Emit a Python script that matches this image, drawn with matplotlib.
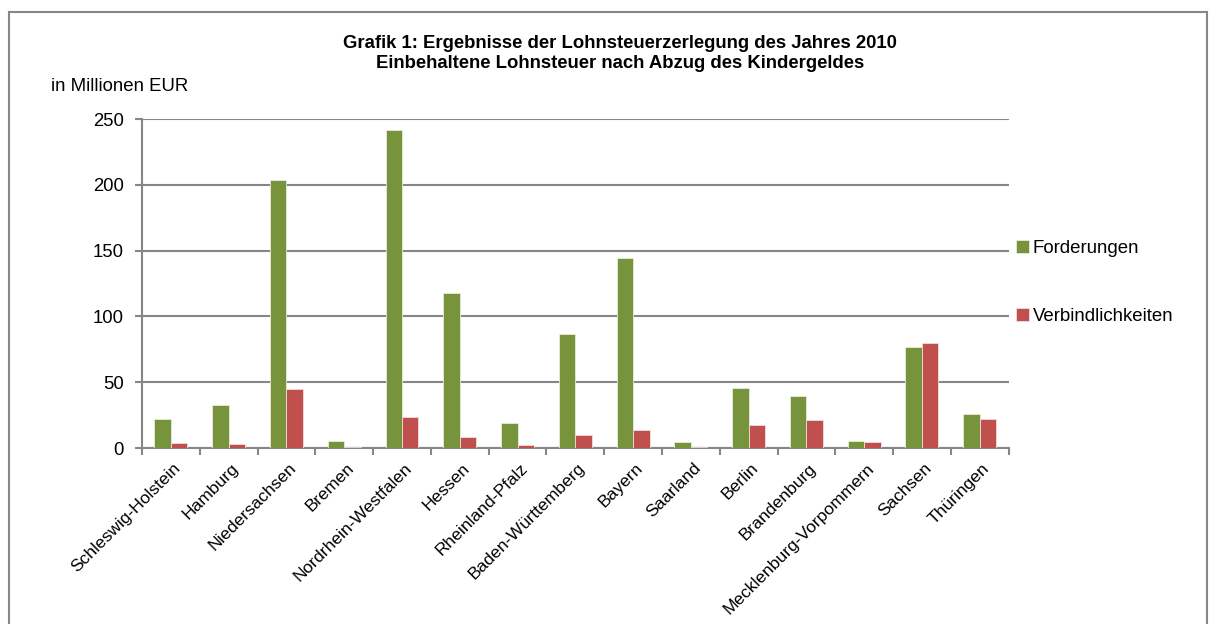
import matplotlib.pyplot as plt
import numpy as np
from matplotlib.patches import Rectangle
from matplotlib.transforms import ScaledTranslation

plt.rcParams["font.family"] = ["Liberation Sans", "DejaVu Sans"]

laender = ["Schleswig-Holstein", "Hamburg", "Niedersachsen", "Bremen",
           "Nordrhein-Westfalen", "Hessen", "Rheinland-Pfalz", "Baden-Württemberg",
           "Bayern", "Saarland", "Berlin", "Brandenburg",
           "Mecklenburg-Vorpommern", "Sachsen", "Thüringen"]
forderungen = [22.1, 33.0, 203.8, 5.6, 242.1, 117.5, 19.3, 86.5,
               144.2, 4.6, 45.9, 39.8, 5.3, 76.9, 25.9]
verbindlichkeiten = [4.1, 3.0, 44.7, 1.0, 23.6, 8.6, 2.5, 10.2,
                     14.0, 0.8, 17.8, 21.6, 4.8, 79.7, 21.8]

grey = "#868686"
fig = plt.figure(figsize=(12.18, 6.24), dpi=100)
ax = fig.add_axes([0.1166, 0.282, 0.7115, 0.527])

x = np.arange(len(laender))
w = 0.285
ax.bar(x - w / 2, forderungen, w, color="#77933c", edgecolor="#e6ecd9",
       linewidth=0.6, label="Forderungen", zorder=3)
ax.bar(x + w / 2, verbindlichkeiten, w, color="#c0504d", edgecolor="#f2dcdb",
       linewidth=0.6, label="Verbindlichkeiten", zorder=3)

ax.set_xlim(-0.5, len(laender) - 0.5)
ax.set_ylim(0, 250)
ax.set_yticks(range(0, 251, 50))
ax.yaxis.grid(True, color=grey, linewidth=1.5, zorder=0)
ax.tick_params(axis="y", length=5, width=1.5, color=grey, labelsize=13.3, pad=8)

ax.set_xticks(np.arange(-0.5, len(laender), 1.0), minor=False)
ax.set_xticklabels([])
ax.set_xticks(x, minor=True)
ax.set_xticklabels(laender, minor=True, rotation=45, ha="right", va="top",
                   rotation_mode="anchor", fontsize=12.6)
ax.tick_params(axis="x", which="major", length=5, width=1.5, color=grey)
ax.tick_params(axis="x", which="minor", length=0, pad=9)
shift = ScaledTranslation(2 / 100, 0, fig.dpi_scale_trans)
for lab in ax.get_xticklabels(minor=True):
    lab.set_transform(lab.get_transform() + shift)

for s in ["top", "right"]:
    ax.spines[s].set_visible(False)
for s in ["left", "bottom"]:
    ax.spines[s].set_color(grey)
    ax.spines[s].set_linewidth(1.5)

fig.text(0.509, 0.930, "Grafik 1: Ergebnisse der Lohnsteuerzerlegung des Jahres 2010",
         ha="center", va="center", fontsize=13.3, fontweight="bold")
fig.text(0.509, 0.899, "Einbehaltene Lohnsteuer nach Abzug des Kindergeldes",
         ha="center", va="center", fontsize=13.3, fontweight="bold")
fig.text(0.042, 0.862, "in Millionen EUR", ha="left", va="center", fontsize=13.4)

ax.legend(loc="center left", bbox_to_anchor=(1.0, 0.503), frameon=False,
          bbox_transform=ax.transAxes, fontsize=13.4, handlelength=0.7,
          handleheight=0.7, handletextpad=0.2, labelspacing=2.7,
          borderaxespad=0)

fig.patches.append(Rectangle((9 / 1218, -0.1), 1198 / 1218, 1.081,
                             transform=fig.transFigure, fill=False,
                             edgecolor=grey, linewidth=1.5))

fig.savefig("out.png", dpi=100)
